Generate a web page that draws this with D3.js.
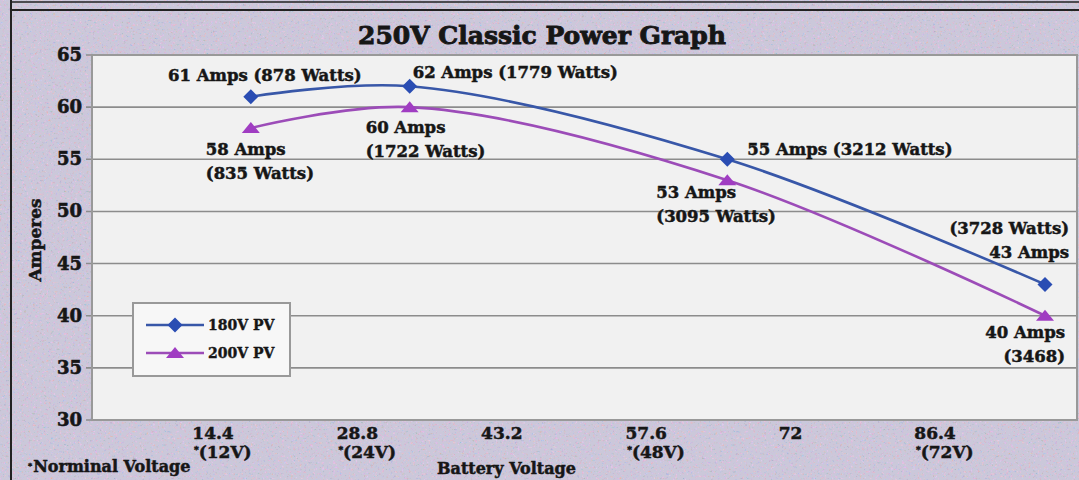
<!DOCTYPE html>
<html><head><meta charset="utf-8">
<script src="https://cdn.jsdelivr.net/npm/d3@7"></script>
<style>body{margin:0;background:#cbc8da;} svg{display:block}</style>
</head><body>
<svg id="c" width="1079" height="480"></svg>
<script>
// ---- data ----
const chartTitle = "250V Classic Power Graph";
const batteryVoltages = [14.4, 28.8, 57.6, 86.4];
const pv180Amps = [61, 62, 55, 43];
const pv200Amps = [58, 60, 53, 40];
const pv180Labels = [["61 Amps (878 Watts)"], ["62 Amps (1779 Watts)"], ["55 Amps (3212 Watts)"], ["(3728 Watts)", "43 Amps"]];
const pv200Labels = [["58 Amps", "(835 Watts)"], ["60 Amps", "(1722 Watts)"], ["53 Amps", "(3095 Watts)"], ["40 Amps", "(3468)"]];
const xTickLabels = ["14.4", "28.8", "43.2", "57.6", "72", "86.4"];
const nominalLabels = ["(12V)", "(24V)", "", "(48V)", "", "(72V)"];
const yTicks = [30, 35, 40, 45, 50, 55, 60, 65];
const seriesNames = ["180V PV", "200V PV"];

// ---- layout (not data) ----
const W = 1079, H = 480;
const plot = {l: 92, t: 55, r: 1077, b: 420};
const FONT = "'DejaVu Serif', serif";
const INK = "#161616";
const blue = "#3857a8", blueMark = "#2a4db3";
const purple = "#9c4cb8", purpleMark = "#a03dc2";
const lab180 = [{dx: 14, dy: -16, a: "middle"}, {dx: 3, dy: -8, a: "start"}, {dx: 20, dy: -4, a: "start"}, {dx: 24, dy: -50, a: "end"}];
const lab200 = [{dx: -45, dy: 27, a: "start"}, {dx: -44, dy: 26, a: "start"}, {dx: -71, dy: 18, a: "start"}, {dx: 20, dy: 22, a: "end"}];

const svg = d3.select("#c");
const defs = svg.append("defs");
const f = defs.append("filter").attr("id", "speck").attr("x", 0).attr("y", 0).attr("width", "100%").attr("height", "100%");
f.append("feTurbulence").attr("type", "fractalNoise").attr("baseFrequency", 0.45).attr("numOctaves", 2).attr("seed", 7);
f.append("feColorMatrix").attr("type", "matrix")
  .attr("values", "1.6 0 0 0 -0.1  0 0.5 0 0 0.25  0 0.4 1.2 0 -0.1  0 0 0 12 -6.3");

svg.append("rect").attr("width", W).attr("height", H).attr("fill", "#cbc8da");
svg.append("rect").attr("width", W).attr("height", H).attr("filter", "url(#speck)").attr("opacity", 0.45);

// frame
svg.append("line").attr("x1", 10).attr("x2", W).attr("y1", 2).attr("y2", 2).attr("stroke", "#222").attr("stroke-width", 1.5);
svg.append("line").attr("x1", 10).attr("x2", W).attr("y1", 10).attr("y2", 10).attr("stroke", "#222").attr("stroke-width", 2);
svg.append("line").attr("x1", 11).attr("x2", 11).attr("y1", 0).attr("y2", H).attr("stroke", "#222").attr("stroke-width", 2);

const x = d3.scaleLinear().domain([0, 89.3]).range([plot.l, plot.r]);
const y = d3.scaleLinear().domain([30, 65]).range([plot.b, plot.t]);
const xt = d3.scalePoint().domain(xTickLabels).range([213, 935]);

// plot area
svg.append("rect").attr("x", plot.l).attr("y", plot.t).attr("width", plot.r - plot.l).attr("height", plot.b - plot.t)
  .attr("fill", "#f1f1f1");
svg.append("g").selectAll("line").data(yTicks).join("line")
  .attr("x1", plot.l - 6).attr("x2", plot.r).attr("y1", d => y(d)).attr("y2", d => y(d))
  .attr("stroke", "#8c8c8c").attr("stroke-width", 1.6);
svg.append("rect").attr("x", plot.l).attr("y", plot.t).attr("width", plot.r - plot.l).attr("height", plot.b - plot.t)
  .attr("fill", "none").attr("stroke", "#999").attr("stroke-width", 2);

const heavy = (sel, w) => sel.attr("stroke", INK).attr("stroke-width", w).attr("paint-order", "stroke");

// y tick labels
svg.append("g").call(g => heavy(g, 0.6)).selectAll("text").data(yTicks).join("text")
  .attr("x", 82).attr("y", d => y(d) + 6).attr("text-anchor", "end")
  .attr("font-family", FONT).attr("font-weight", "bold").attr("font-size", 18).attr("fill", INK)
  .text(d => d);

// x tick labels
const xg = svg.append("g").attr("font-family", FONT).attr("font-weight", "bold").attr("fill", INK).call(g => heavy(g, 0.5));
xg.selectAll("text.v").data(xTickLabels).join("text").attr("class", "v")
  .attr("x", d => xt(d)).attr("y", 439).attr("text-anchor", "middle").attr("font-size", 17).text(d => d);
const nom = xg.selectAll("text.n").data(xTickLabels.map((d, i) => ({d, n: nominalLabels[i]})).filter(o => o.n)).join("text").attr("class", "n")
  .attr("x", o => xt(o.d) - 19).attr("y", 458).attr("font-size", 17);
nom.append("tspan").attr("font-size", 9).attr("dy", -5).text("*");
nom.append("tspan").attr("dy", 5).text(o => o.n);

svg.append("text").attr("x", 28).attr("y", 472).attr("font-family", FONT).attr("font-weight", "bold").attr("font-size", 16).attr("fill", INK)
  .call(t => heavy(t, 0.5))
  .call(t => { t.append("tspan").attr("font-size", 8).attr("dy", -4).text("*"); t.append("tspan").attr("dy", 4).attr("dx", 1).text("Norminal Voltage"); });
svg.append("text").attr("x", 437).attr("y", 474).attr("font-family", FONT).attr("font-weight", "bold").attr("font-size", 16).attr("fill", INK)
  .call(t => heavy(t, 0.5)).text("Battery Voltage");
svg.append("text").attr("transform", "translate(41,240) rotate(-90)").attr("text-anchor", "middle")
  .attr("font-family", FONT).attr("font-weight", "bold").attr("font-size", 17).attr("fill", INK).call(t => heavy(t, 0.5)).text("Amperes");

// title
svg.append("text").attr("x", 542).attr("y", 44).attr("text-anchor", "middle")
  .attr("font-family", FONT).attr("font-weight", "bold").attr("font-size", 25).attr("fill", INK).call(t => heavy(t, 0.9)).text(chartTitle);

// series
const s180 = batteryVoltages.map((v, i) => ({v, a: pv180Amps[i]}));
const s200 = batteryVoltages.map((v, i) => ({v, a: pv200Amps[i]}));
const line = d3.line().x(d => x(d.v)).y(d => y(d.a)).curve(d3.curveCatmullRom.alpha(0.5));
svg.append("path").datum(s200).attr("d", line).attr("fill", "none").attr("stroke", purple).attr("stroke-width", 2.6);
svg.append("path").datum(s180).attr("d", line).attr("fill", "none").attr("stroke", blue).attr("stroke-width", 2.6);

const diamond = (cx, cy) => `M${cx},${cy - 7.5}L${cx + 7.5},${cy}L${cx},${cy + 7.5}L${cx - 7.5},${cy}Z`;
const tri = (cx, cy) => `M${cx - 9},${cy + 5}L${cx},${cy - 6}L${cx + 9},${cy + 5}Z`;
svg.append("g").selectAll("path").data(s200).join("path").attr("d", d => tri(x(d.v), y(d.a))).attr("fill", purpleMark);
svg.append("g").selectAll("path").data(s180).join("path").attr("d", d => diamond(x(d.v), y(d.a))).attr("fill", blueMark);

// data labels
function labels(series, texts, lay) {
  const g = svg.append("g").attr("font-family", FONT).attr("font-weight", "bold").attr("font-size", 16.5).attr("fill", INK).call(g => heavy(g, 0.5));
  series.forEach((d, i) => {
    const L = lay[i];
    const t = g.append("text").attr("x", x(d.v) + L.dx).attr("y", y(d.a) + L.dy).attr("text-anchor", L.a);
    texts[i].forEach((s, k) => t.append("tspan").attr("x", x(d.v) + L.dx).attr("dy", k ? 24 : 0).text(s));
  });
}
labels(s180, pv180Labels, lab180);
labels(s200, pv200Labels, lab200);

// legend
const lg = svg.append("g");
lg.append("rect").attr("x", 133).attr("y", 303).attr("width", 157).attr("height", 73).attr("fill", "#f7f7f7").attr("stroke", "#999").attr("stroke-width", 2);
const items = [{n: seriesNames[0], c: blue, m: blueMark, sym: diamond}, {n: seriesNames[1], c: purple, m: purpleMark, sym: tri}];
items.forEach((it, i) => {
  const yy = 325 + i * 28;
  lg.append("line").attr("x1", 146).attr("x2", 204).attr("y1", yy).attr("y2", yy).attr("stroke", it.c).attr("stroke-width", 2.6);
  lg.append("path").attr("d", it.sym(175, yy)).attr("fill", it.m);
  lg.append("text").attr("x", 208).attr("y", yy + 5).attr("font-family", FONT).attr("font-weight", "bold").attr("font-size", 14).attr("fill", INK)
    .call(t => heavy(t, 0.4)).text(it.n);
});
</script>
</body></html>
